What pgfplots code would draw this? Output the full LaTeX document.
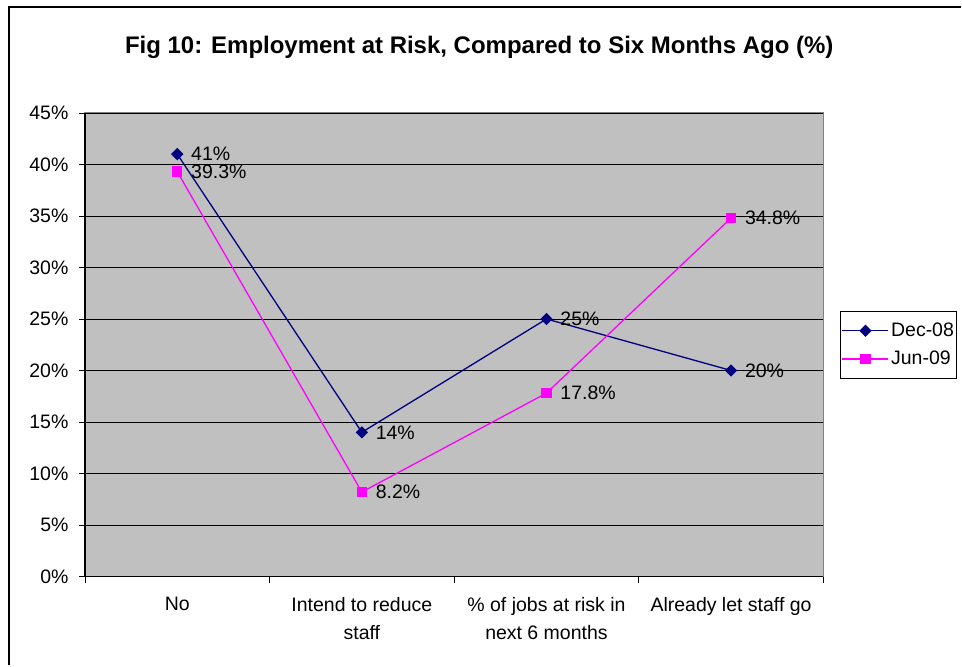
\documentclass[border=0pt]{standalone}
\usepackage{fontspec}
\setmainfont{Liberation Sans}
\usepackage{pgfplots}
\pgfplotsset{compat=1.18}
\definecolor{plotgray}{HTML}{C0C0C0}
\definecolor{navy}{HTML}{000080}
\definecolor{mag}{HTML}{FF00FF}
\definecolor{bordergray}{HTML}{808080}
\begin{document}
\begin{tikzpicture}[x=1pt,y=1pt,font=\fontsize{19.5}{28}\selectfont]
\fill[white] (0,0) rectangle (962,666);
\draw[line width=1.5pt] (9,0) -- (9,659) -- (962,659);
\begin{axis}[
  at={(85pt,89pt)}, anchor=south west,
  scale only axis, width=739pt, height=464pt,
  xmin=-0.5, xmax=3.5, ymin=0, ymax=45,
  axis background/.style={fill=plotgray},
  axis line style={draw=bordergray, line width=1pt},
  tick pos=left, tick align=outside,
  major tick length=6pt,
  tick style={black, line width=0.8pt},
  ytick={0,5,10,15,20,25,30,35,40,45},
  yticklabels={0\%,5\%,10\%,15\%,20\%,25\%,30\%,35\%,40\%,45\%},
  yticklabel style={xshift=-7pt},
  xtick={-0.5,0.5,1.5,2.5,3.5},
  xticklabels={},
  extra x ticks={0,1,2,3},
  extra x tick labels={No,Intend to reduce\\staff,\% of jobs at risk in\\next 6 months,Already let staff go},
  extra x tick style={major tick length=0pt, grid=none},
  xticklabel style={align=center, yshift=-17pt},
  ymajorgrids,
  major grid style={black, line width=0.8pt},
  title={Fig 10: Employment at Risk, Compared to Six Months Ago (\%)},
  title style={font=\bfseries\fontsize{24}{28}\selectfont, at={(0.534,1.129)}, anchor=center},
  legend style={at={(1.023,0.5733)}, anchor=north west, draw=black, line width=1pt, fill=white,
    inner xsep=1pt, inner ysep=10pt, row sep=9pt},
  legend cell align=left,
  legend image code/.code={\draw[mark repeat=2,mark phase=2] plot coordinates {(4pt,0pt) (27pt,0pt) (50pt,0pt)};},
  nodes near coords,
  point meta=explicit symbolic,
  nodes near coords style={anchor=west, xshift=10pt, text=black},
  after end axis/.code={\draw[black, line width=1.2pt] (rel axis cs:0,1) -- (rel axis cs:0,0) -- (rel axis cs:1,0);},
]
\addplot[navy, line width=1.3pt, mark=square*, mark size=3.7pt, mark options={fill=navy, draw=navy, rotate=45}]
  coordinates {(0,41) [41\%] (1,14) [14\%] (2,25) [25\%] (3,20) [20\%]};
\addlegendentry{Dec-08}
\addplot[mag, line width=1.3pt, mark=square*, mark size=4.5pt, mark options={fill=mag, draw=mag}]
  coordinates {(0,39.3) [39.3\%] (1,8.2) [8.2\%] (2,17.8) [17.8\%] (3,34.8) [34.8\%]};
\addlegendentry{Jun-09}
\end{axis}
\end{tikzpicture}
\end{document}
